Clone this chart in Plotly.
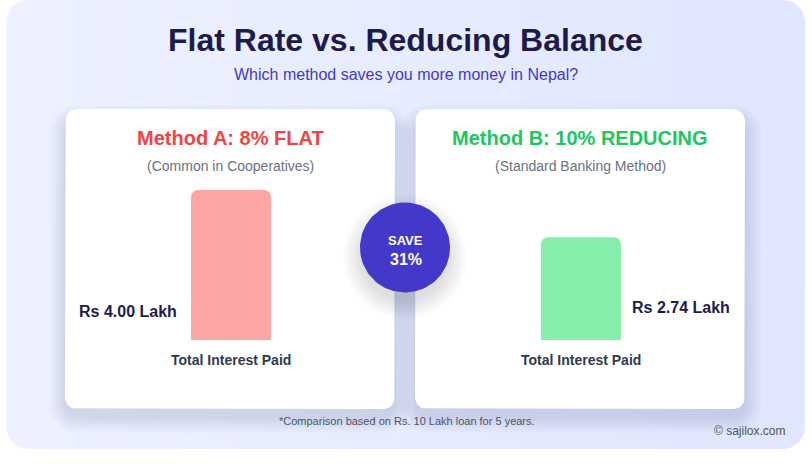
import numpy as np
import plotly.graph_objects as go

# ---------------- data ----------------
title_text = "Flat Rate vs. Reducing Balance"
subtitle_text = "Which method saves you more money in Nepal?"
methods = ["Method A: 8% FLAT", "Method B: 10% REDUCING"]
method_notes = ["(Common in Cooperatives)", "(Standard Banking Method)"]
interest_lakh = [4.00, 2.74]
bar_caption = "Total Interest Paid"
save_label = "SAVE"
save_pct = "31%"
footnote = "*Comparison based on Rs. 10 Lakh loan for 5 years."
credit = "© sajilox.com"

# ---------------- styles ----------------
W, H = 812, 470
FONT = "Liberation Sans, Arial, Helvetica, sans-serif"
title_colors = ["#ef4444", "#22c55e"]
bar_colors = ["#fca5a5", "#86efac"]
card_cx = [230, 580]
cards = [(65, 109, 395, 409), (415, 109, 745, 409)]


def rrect(x0, y0, x1, y1, r, n=10):
    xs, ys = [], []
    for cx, cy, a0 in [(x1 - r, y0 + r, -90), (x1 - r, y1 - r, 0),
                       (x0 + r, y1 - r, 90), (x0 + r, y0 + r, 180)]:
        t = np.radians(np.linspace(a0, a0 + 90, n))
        xs += list(cx + r * np.cos(t))
        ys += list(cy + r * np.sin(t))
    xs.append(xs[0]); ys.append(ys[0])
    return xs, ys


def circle(cx, cy, r, n=120):
    t = np.linspace(0, 2 * np.pi, n)
    return list(cx + r * np.cos(t)), list(cy + r * np.sin(t))


fig = go.Figure()


def deco(xs, ys, color, **kw):
    fig.add_trace(go.Scatter(x=xs, y=ys, mode="lines", fill="toself",
                             fillcolor=color, line=dict(width=0),
                             hoverinfo="skip", showlegend=False,
                             xaxis="x", yaxis="y", **kw))


# panel with gradient
px, py = rrect(6, 0, 805, 449, 22)
deco(px, py, "#e8ecfe",
     fillgradient=dict(type="horizontal",
                       colorscale=[[0, "#eef2ff"], [1, "#e0e6fd"]]))

# card shadows (mostly below the card)
for (x0, y0, x1, y1) in cards:
    for k in range(7):
        s = 1 + 2.5 * k
        xs, ys = rrect(x0 - s, y0 - s + 12, x1 + s, y1 + s + 8, 12 + s)
        deco(xs, ys, "rgba(40,40,110,0.02)")
# cards
for (x0, y0, x1, y1) in cards:
    xs, ys = rrect(x0, y0, x1, y1, 12)
    deco(xs, ys, "#ffffff")

# save badge shadow + badge
for k in range(8):
    xs, ys = circle(405, 257, 44 + 2.5 * k)
    deco(xs, ys, "rgba(0,0,0,0.016)")
xs, ys = circle(405, 247.5, 45)
deco(xs, ys, "#4338ca")

# bars through their own axis
fig.add_trace(go.Bar(x=["A", "B"], y=interest_lakh,
                     marker=dict(color=bar_colors, line=dict(width=0)),
                     width=80 / 350, xaxis="x2", yaxis="y2", hoverinfo="skip",
                     showlegend=False))

ann = []


def txt(x, y, text, size, color, bold=False, xanchor="center"):
    ann.append(dict(x=x, y=y, xref="x", yref="y", text=text, showarrow=False,
                    xanchor=xanchor, yanchor="middle",
                    font=dict(family=FONT, size=size, color=color,
                              weight="bold" if bold else "normal")))


txt(405.5, 40, title_text, 32, "#1e1b4b", True)
txt(405.5, 74, subtitle_text, 16, "#4338ca")
for i in range(2):
    txt(card_cx[i], 137.5, methods[i], 20, title_colors[i], True)
    txt(card_cx[i], 165.5, method_notes[i], 14, "#6b7280")
    txt(card_cx[i] + 1, 359.5, bar_caption, 14, "#2f3a4c", True)
txt(179, 311.5, f"Rs {interest_lakh[0]:.2f} Lakh", 16, "#1e1b4b", True, "right")
txt(630, 307, f"Rs {interest_lakh[1]:.2f} Lakh", 16, "#1e1b4b", True, "left")
txt(405.5, 240.5, save_label, 13, "#ffffff", True)
txt(405.5, 259, save_pct, 16, "#ffffff", True)
txt(407, 421, footnote, 11, "#4b5563")
txt(788, 431, credit, 12, "#4b5563", xanchor="right")

fig.update_layout(
    width=W, height=H, margin=dict(l=0, r=0, t=0, b=0),
    paper_bgcolor="#ffffff", plot_bgcolor="rgba(0,0,0,0)",
    barcornerradius=7, hovermode=False,
    xaxis=dict(range=[0, W], domain=[0, 1], visible=False, fixedrange=True),
    yaxis=dict(range=[H, 0], domain=[0, 1], visible=False, fixedrange=True),
    xaxis2=dict(domain=[56 / W, 756 / W], range=[-0.5, 1.5], visible=False,
                anchor="y2", fixedrange=True),
    yaxis2=dict(domain=[(H - 340) / H, (H - 190) / H], range=[0, 4.0],
                visible=False, anchor="x2", fixedrange=True),
    annotations=ann,
)

fig.write_html("out.html", config={"displayModeBar": False},
               post_script="document.body.style.margin='0';document.body.style.overflow='hidden';")
